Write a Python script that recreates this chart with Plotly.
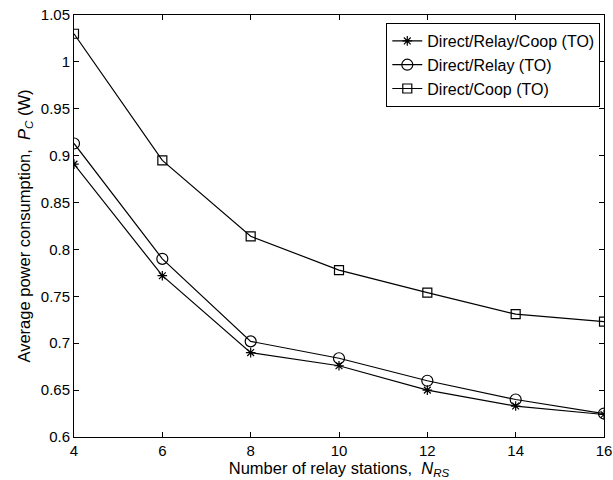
import plotly.graph_objects as go

n_rs = [4, 6, 8, 10, 12, 14, 16]
direct_relay_coop = [0.891, 0.772, 0.690, 0.676, 0.650, 0.633, 0.624]
direct_relay = [0.913, 0.790, 0.702, 0.684, 0.660, 0.640, 0.625]
direct_coop = [1.030, 0.895, 0.814, 0.778, 0.754, 0.731, 0.723]

x_ticks = [4, 6, 8, 10, 12, 14, 16]
y_ticks = [0.6, 0.65, 0.7, 0.75, 0.8, 0.85, 0.9, 0.95, 1.0, 1.05]
y_tick_text = ["0.6", "0.65", "0.7", "0.75", "0.8", "0.85", "0.9", "0.95", "1", "1.05"]

FONT = "Liberation Sans, Arial, Helvetica, sans-serif"

fig = go.Figure()
series = [
    ("Direct/Relay/Coop (TO)", direct_relay_coop, "asterisk-open", 8),
    ("Direct/Relay (TO)", direct_relay, "circle-open", 11),
    ("Direct/Coop (TO)", direct_coop, "square-open", 9),
]
for name, ys, sym, sz in series:
    fig.add_trace(go.Scatter(
        x=n_rs, y=ys, name=name, mode="lines+markers",
        line=dict(color="black", width=1.2),
        marker=dict(symbol=sym, size=sz, color="black", line=dict(color="black", width=1.2)),
    ))

axis_common = dict(
    showgrid=False, zeroline=False, showline=True, linecolor="black", linewidth=1,
    mirror="ticks", ticks="inside", ticklen=5, tickcolor="black", automargin=False,
    tickfont=dict(family=FONT, size=15, color="black"),
)
fig.update_xaxes(range=[4, 16], tickvals=x_ticks,
                 title=dict(text="Number of relay stations,  <i>N</i><sub><i>RS</i></sub>",
                            font=dict(family=FONT, size=16.5, color="black"), standoff=0),
                 **axis_common)
fig.update_yaxes(range=[0.6, 1.05], tickvals=y_ticks, ticktext=y_tick_text,
                 title=dict(text="Average power consumption,  <i>P</i><sub><i>C</i></sub> (W)",
                            font=dict(family=FONT, size=16.5, color="black"), standoff=6),
                 **axis_common)

fig.update_layout(
    width=613, height=480,
    margin=dict(l=74, r=9, t=15, b=43),
    paper_bgcolor="white", plot_bgcolor="white",
    font=dict(family=FONT, color="black"),
    legend=dict(x=0.993, y=0.981, xanchor="right", yanchor="top",
                bordercolor="black", borderwidth=1, bgcolor="white",
                font=dict(family=FONT, size=16, color="black"),
                tracegroupgap=0, itemwidth=30),
    showlegend=True,
)

fig.write_html("out.html", config={"displayModeBar": False},
               post_script="document.body.style.margin='0px';")
